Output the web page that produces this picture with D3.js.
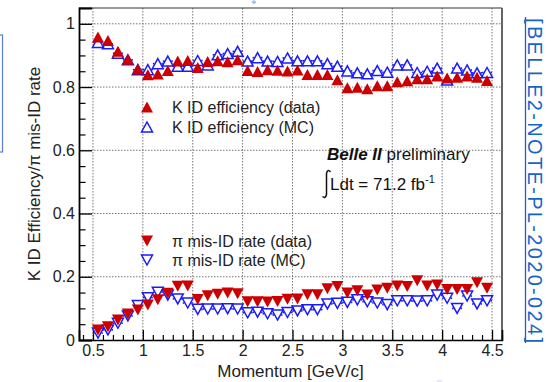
<!DOCTYPE html>
<html>
<head>
<meta charset="utf-8">
<script src="https://cdn.jsdelivr.net/npm/d3@7"></script>
<style>
  html, body { margin: 0; padding: 0; background: #fff; }
  svg { display: block; }
  text { font-family: "Liberation Sans", Arial, Helvetica, sans-serif; }
</style>
</head>
<body>
<svg id="chart" width="551" height="382"></svg>
<script>
// Momentum bin centres [GeV/c]
const momentum = [0.55, 0.65, 0.75, 0.85, 0.95, 1.05, 1.15, 1.25, 1.35, 1.45,
                  1.55, 1.65, 1.75, 1.85, 1.95, 2.05, 2.15, 2.25, 2.35, 2.45,
                  2.55, 2.65, 2.75, 2.85, 2.95, 3.05, 3.15, 3.25, 3.35, 3.45,
                  3.55, 3.65, 3.75, 3.85, 3.95, 4.05, 4.15, 4.25, 4.35, 4.45];
const binHalfWidth = 0.05;

// K ID efficiency
const kEffData = [0.958, 0.947, 0.913, 0.888, 0.857, 0.839, 0.841, 0.852, 0.882, 0.884,
                  0.862, 0.881, 0.883, 0.880, 0.886, 0.852, 0.849, 0.855, 0.853, 0.851,
                  0.854, 0.840, 0.840, 0.840, 0.823, 0.798, 0.799, 0.795, 0.804, 0.804,
                  0.817, 0.820, 0.826, 0.826, 0.835, 0.829, 0.831, 0.835, 0.831, 0.821];
const kEffMC   = [0.941, 0.937, 0.907, 0.886, 0.855, 0.855, 0.874, 0.882, 0.866, 0.866,
                  0.884, 0.870, 0.902, 0.906, 0.913, 0.882, 0.893, 0.882, 0.881, 0.892,
                  0.883, 0.883, 0.883, 0.874, 0.866, 0.851, 0.845, 0.842, 0.852, 0.847,
                  0.870, 0.870, 0.846, 0.850, 0.860, 0.822, 0.860, 0.854, 0.845, 0.846];

// pi mis-ID rate
const piMisData = [0.032, 0.042, 0.063, 0.082, 0.095, 0.111, 0.127, 0.148, 0.170, 0.171,
                   0.128, 0.140, 0.145, 0.149, 0.146, 0.121, 0.121, 0.120, 0.122, 0.129,
                   0.130, 0.143, 0.143, 0.162, 0.169, 0.149, 0.156, 0.142, 0.158, 0.164,
                   0.171, 0.169, 0.187, 0.171, 0.174, 0.160, 0.160, 0.160, 0.181, 0.164];
const piMisMC   = [0.022, 0.032, 0.053, 0.076, 0.109, 0.134, 0.151, 0.142, 0.130, 0.117,
                   0.097, 0.098, 0.098, 0.099, 0.098, 0.086, 0.088, 0.083, 0.079, 0.087,
                   0.092, 0.096, 0.096, 0.114, 0.116, 0.119, 0.127, 0.121, 0.117, 0.112,
                   0.124, 0.124, 0.123, 0.124, 0.142, 0.132, 0.100, 0.139, 0.114, 0.124];

// Axis tick labels
const xTickValues = [0.5, 1, 1.5, 2, 2.5, 3, 3.5, 4, 4.5];
const xTickLabels = ["0.5", "1", "1.5", "2", "2.5", "3", "3.5", "4", "4.5"];
const yTickValues = [0, 0.2, 0.4, 0.6, 0.8, 1];
const yTickLabels = ["0", "0.2", "0.4", "0.6", "0.8", "1"];

// Legend entries
const legendLabels = ["K ID efficiency (data)", "K ID efficiency (MC)",
                      "\u03c0 mis-ID rate (data)", "\u03c0 mis-ID rate (MC)"];

const RED = "#cc0000";
const BLUE = "#1a1aff";

const svg = d3.select("#chart");
const frame = { left: 79, right: 502, top: 8, bottom: 340 };

const x = d3.scaleLinear().domain([0.36, 4.6]).range([frame.left, frame.right]);
const y = d3.scaleLinear().domain([0, 1.05]).range([frame.bottom, frame.top]);

// Grid (dotted)
const grid = svg.append("g").attr("stroke", "#777").attr("stroke-width", 1)
  .attr("stroke-dasharray", "1.5,1.5");
grid.selectAll(".gx").data(xTickValues).join("line")
  .attr("x1", d => x(d)).attr("x2", d => x(d))
  .attr("y1", frame.top).attr("y2", frame.bottom);
grid.selectAll(".gy").data(yTickValues.filter(v => v > 0)).join("line")
  .attr("x1", frame.left).attr("x2", frame.right)
  .attr("y1", d => y(d)).attr("y2", d => y(d));

// Frame
svg.append("line").attr("x1", frame.left).attr("x2", frame.right)
  .attr("y1", frame.top).attr("y2", frame.top).attr("stroke", "#333").attr("stroke-width", 1.2);
svg.append("line").attr("x1", frame.right).attr("x2", frame.right)
  .attr("y1", frame.top).attr("y2", frame.bottom).attr("stroke", "#555").attr("stroke-width", 1.8);

// Axes with inward ticks
const xMinor = d3.range(0.4, 4.61, 0.1).map(v => +v.toFixed(2))
  .filter(v => !xTickValues.some(t => Math.abs(t - v) < 1e-6));
const yMinor = d3.range(0.05, 1.051, 0.05).map(v => +v.toFixed(2))
  .filter(v => !yTickValues.some(t => Math.abs(t - v) < 1e-6));

const xAxis = svg.append("g").attr("transform", `translate(0,${frame.bottom})`)
  .call(d3.axisBottom(x).tickValues(xTickValues).tickSize(-10)
    .tickFormat((d, i) => xTickLabels[i]));
xAxis.select(".domain").attr("stroke", "#000").attr("stroke-width", 1.6);
xAxis.selectAll(".tick line").attr("stroke", "#000").attr("stroke-width", 1.3);
xAxis.selectAll(".tick text").attr("y", 16).attr("dy", 0)
  .attr("font-size", 16).attr("fill", "#222")
  .attr("font-family", "'Liberation Sans', Arial, sans-serif");

svg.append("g").attr("transform", `translate(0,${frame.bottom})`)
  .call(d3.axisBottom(x).tickValues(xMinor).tickSize(-5).tickFormat(""))
  .call(g => g.select(".domain").remove())
  .selectAll(".tick line").attr("stroke", "#000").attr("stroke-width", 1.2);

const yAxis = svg.append("g").attr("transform", `translate(${frame.left},0)`)
  .call(d3.axisLeft(y).tickValues(yTickValues).tickSize(-13).tickPadding(4)
    .tickFormat((d, i) => yTickLabels[i]));
yAxis.select(".domain").attr("stroke", "#000").attr("stroke-width", 1.8);
yAxis.selectAll(".tick line").attr("stroke", "#000").attr("stroke-width", 1.3);
yAxis.selectAll(".tick text").attr("font-size", 16).attr("fill", "#222")
  .attr("font-family", "'Liberation Sans', Arial, sans-serif");

svg.append("g").attr("transform", `translate(${frame.left},0)`)
  .call(d3.axisLeft(y).tickValues(yMinor).tickSize(-6.5).tickFormat(""))
  .call(g => g.select(".domain").remove())
  .selectAll(".tick line").attr("stroke", "#000").attr("stroke-width", 1.2);

// Axis titles
svg.append("text").attr("x", (frame.left + frame.right) / 2).attr("y", 377)
  .attr("text-anchor", "middle").attr("font-size", 17).attr("fill", "#222")
  .text("Momentum [GeV/c]");
svg.append("text")
  .attr("transform", `translate(40,${(frame.top + frame.bottom) / 2}) rotate(-90)`)
  .attr("text-anchor", "middle").attr("font-size", 17).attr("fill", "#222")
  .text("K ID Efficiency/\u03c0 mis-ID rate");

// Marker shapes
const triUp = "M0,-5.5L6,5.5L-6,5.5Z";
const triDown = "M0,5.5L6,-5.5L-6,-5.5Z";
const triUpOpen = "M0,-5L5.5,5L-5.5,5Z";
const triDownOpen = "M0,5L5.5,-5L-5.5,-5Z";

// MC series: open markers with horizontal bin-width bars
function drawMC(values, shape) {
  const g = svg.append("g");
  const pts = momentum.map((m, i) => ({ m, v: values[i] }));
  g.selectAll(".errL").data(pts).join("line")
    .attr("x1", d => x(d.m - binHalfWidth)).attr("x2", d => x(d.m) - 3.5)
    .attr("y1", d => y(d.v)).attr("y2", d => y(d.v))
    .attr("stroke", BLUE).attr("stroke-width", 1.6);
  g.selectAll(".errR").data(pts).join("line")
    .attr("x1", d => x(d.m) + 3.5).attr("x2", d => x(d.m + binHalfWidth))
    .attr("y1", d => y(d.v)).attr("y2", d => y(d.v))
    .attr("stroke", BLUE).attr("stroke-width", 1.6);
  g.selectAll("path").data(pts).join("path")
    .attr("d", shape)
    .attr("transform", d => `translate(${x(d.m)},${y(d.v)})`)
    .attr("fill", "none").attr("stroke", BLUE).attr("stroke-width", 1.5)
    .attr("stroke-linejoin", "miter");
}

function drawData(values, shape) {
  svg.append("g").selectAll("path")
    .data(momentum.map((m, i) => ({ m, v: values[i] })))
    .join("path")
    .attr("d", shape)
    .attr("transform", d => `translate(${x(d.m)},${y(d.v)})`)
    .attr("fill", RED);
}

drawMC(kEffMC, triUpOpen);
drawMC(piMisMC, triDownOpen);
drawData(kEffData, triUp);
drawData(piMisData, triDown);

// Legends
const legendRows = [
  { y: 107, shape: triUp, fill: RED, stroke: "none" },
  { y: 127, shape: triUpOpen, fill: "none", stroke: BLUE },
  { y: 241, shape: triDown, fill: RED, stroke: "none" },
  { y: 260, shape: triDownOpen, fill: "none", stroke: BLUE }
];
const leg = svg.append("g");
legendRows.forEach((r, i) => {
  leg.append("path").attr("d", r.shape)
    .attr("transform", `translate(147,${r.y})`)
    .attr("fill", r.fill).attr("stroke", r.stroke).attr("stroke-width", 1.5);
  leg.append("text").attr("x", 172).attr("y", r.y + 5.5)
    .attr("font-size", 16).attr("fill", "#222").text(legendLabels[i]);
});

// Belle II label and luminosity
const belle = svg.append("text").attr("x", 327).attr("y", 160)
  .attr("font-size", 17).attr("fill", "#111");
belle.append("tspan").attr("font-weight", "bold").attr("font-style", "italic").text("Belle II");
belle.append("tspan").text(" preliminary");

svg.append("path")
  .attr("d", "M330.5,172 Q327.5,168.5 326.5,173.5 L326.5,194.5 Q325.5,199 322.5,196.5")
  .attr("fill", "none").attr("stroke", "#111").attr("stroke-width", 1.5);
const lumi = svg.append("text").attr("x", 330).attr("y", 190)
  .attr("font-size", 17).attr("fill", "#111");
lumi.append("tspan").text("Ldt = 71.2 fb");
lumi.append("tspan").attr("font-size", 11).attr("dy", -7).text("-1");

// Note reference (rotated link text)
svg.append("text")
  .attr("transform", "translate(527.5,18) rotate(90)")
  .attr("font-size", 20).attr("fill", "#1565c8")
  .attr("textLength", 325).attr("lengthAdjust", "spacing")
  .text("[BELLE2-NOTE-PL-2020-024]");
svg.append("line").attr("x1", 525.5).attr("x2", 525.5).attr("y1", 17).attr("y2", 343)
  .attr("stroke", "#1565c8").attr("stroke-width", 1.3);

// Side box edge at the left margin
svg.append("rect").attr("x", -10).attr("y", 35).attr("width", 12.5).attr("height", 117)
  .attr("fill", "none").attr("stroke", "#5b7fcf").attr("stroke-width", 1.2);

// Small stray marks
svg.append("path").attr("d", "M254,0 L254,3 M252,1.5 L254,3.5 L256,1.5")
  .attr("fill", "none").attr("stroke", "#8fb8ea").attr("stroke-width", 1.2);
svg.append("line").attr("x1", 437).attr("x2", 442).attr("y1", 381).attr("y2", 381)
  .attr("stroke", "#c8d4ee").attr("stroke-width", 1);
</script>
</body>
</html>
